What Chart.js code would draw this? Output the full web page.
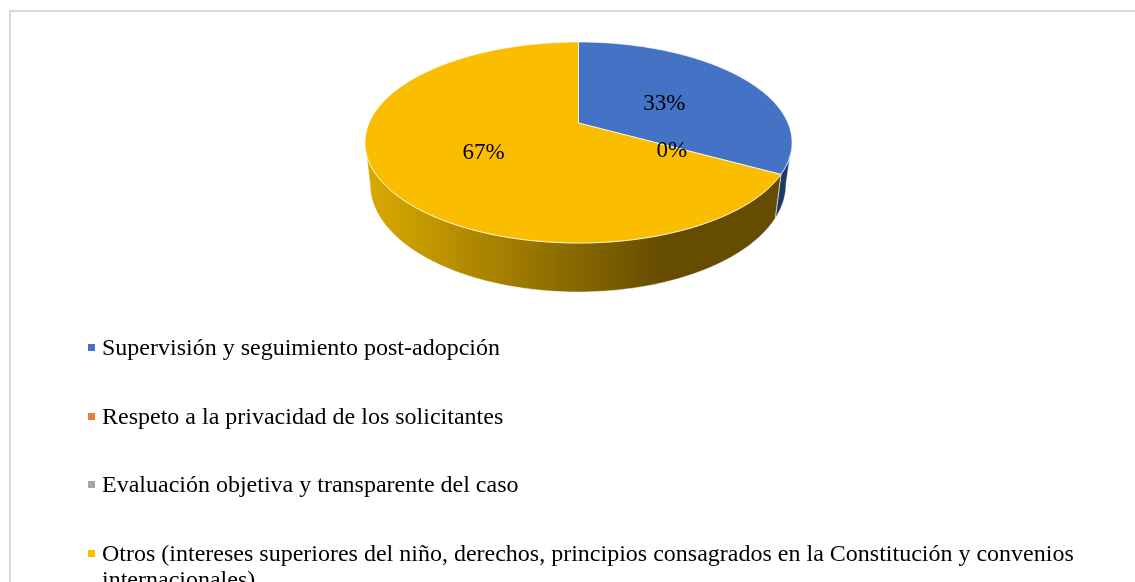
<!DOCTYPE html>
<html>
<head>
<meta charset="utf-8">
<script src="https://cdn.jsdelivr.net/npm/chart.js@4"></script>
<style>
html,body{margin:0;padding:0;background:#fff;overflow:hidden;width:1135px;height:582px}
canvas{display:block}
</style>
</head>
<body>
<canvas id="c" width="1135" height="582"></canvas>
<script>
const categories = [
  "Supervisión y seguimiento post-adopción",
  "Respeto a la privacidad de los solicitantes",
  "Evaluación objetiva y transparente del caso",
  "Otros (intereses superiores del niño, derechos, principios consagrados en la Constitución y convenios internacionales)"
];
const values = [33, 0, 0, 67];
const sliceColors = ["#4472C4", "#ED7D31", "#A5A5A5", "#FBBD00"];
const wallColors = ["#1F3864", "#843C0C", "#525252", null];

const LABEL_FONT = '23px "Liberation Serif"';
const LEGEND_FONT = '24px "Liberation Serif"';
const TOP = {cx:578.5, cy:142.5, a:213.5, b:100.5};
const BASE = {cx:578, cy:184, a:208, b:108};
const K = -0.194;

// Perspective projection of a point of the unit disc onto the tilted pie
function project(p, t, r){
  const u = r*Math.sin(t), v = -r*Math.cos(t), d = 1 + K*v;
  return {x: p.cx + p.a*u*Math.sqrt(1-K*K)/d, y: p.cy + p.b*(v+K)/d};
}
function arcPts(p, t0, t1){
  const n = Math.max(2, Math.ceil(Math.abs(t1-t0)/0.01)), pts = [];
  for(let i=0;i<=n;i++) pts.push(project(p, t0+(t1-t0)*i/n, 1));
  return pts;
}
function trace(ctx, pts, first){
  pts.forEach((q,i)=>{ if(i===0 && first) ctx.moveTo(q.x,q.y); else ctx.lineTo(q.x,q.y); });
}

const pie3d = {
  id:'pie3d',
  beforeDraw(chart){
    const ctx = chart.ctx;
    ctx.save();
    ctx.fillStyle = '#fff';
    ctx.fillRect(0,0,chart.width,chart.height);
    ctx.strokeStyle = '#D9D9D9';
    ctx.lineWidth = 2;
    ctx.beginPath();
    ctx.moveTo(10,chart.height+2); ctx.lineTo(10,11); ctx.lineTo(chart.width+2,11);
    ctx.stroke();
    ctx.restore();
  },
  beforeDatasetsDraw(chart){
    const ctx = chart.ctx, arcs = chart.getDatasetMeta(0).data;
    const ang = arcs.map(a=>[a.startAngle+Math.PI/2, a.endAngle+Math.PI/2]);
    ctx.save();
    // walls: only the front part of the rim shows, between the two side extremes
    const frontStart = Math.PI/2 + Math.asin(-K), frontEnd = 3*Math.PI/2 - Math.asin(-K);
    arcs.forEach((a,i)=>{
      const t0 = Math.max(ang[i][0], frontStart), t1 = Math.min(ang[i][1], frontEnd);
      if(values[i] <= 0 || t1 <= t0) return;
      ctx.beginPath();
      trace(ctx, arcPts(TOP,t0,t1), true);
      trace(ctx, arcPts(BASE,t1,t0), false);
      ctx.closePath();
      if(wallColors[i]){ ctx.fillStyle = wallColors[i]; }
      else{
        const g = ctx.createLinearGradient(365,0,665,0);
        g.addColorStop(0,'#DAAA00');
        g.addColorStop(1,'#654C00');
        ctx.fillStyle = g;
      }
      ctx.fill();
      ctx.strokeStyle = 'rgba(255,255,255,0.55)';
      ctx.lineWidth = 1;
      ctx.stroke();
    });
    // top faces
    arcs.forEach((a,i)=>{
      if(values[i] <= 0) return;
      const apex = project(TOP,0,0);
      ctx.beginPath();
      ctx.moveTo(apex.x,apex.y);
      trace(ctx, arcPts(TOP,ang[i][0],ang[i][1]), false);
      ctx.closePath();
      ctx.fillStyle = sliceColors[i];
      ctx.fill();
      ctx.strokeStyle = 'rgba(255,255,255,0.7)';
      ctx.lineWidth = 1;
      ctx.stroke();
    });
    // value labels; empty slices sit on one spot and share one label
    const total = values.reduce((s,v)=>s+v,0);
    ctx.fillStyle = '#000';
    ctx.font = LABEL_FONT;
    ctx.textAlign = 'center';
    ctx.textBaseline = 'middle';
    let zeroDone = false;
    arcs.forEach((a,i)=>{
      const zero = values[i] === 0;
      if(zero && zeroDone) return;
      if(zero) zeroDone = true;
      const q = project(TOP,(ang[i][0]+ang[i][1])/2,0.5);
      ctx.fillText(Math.round(values[i]/total*100)+'%', q.x-(zero?3:0), q.y+4);
    });
    ctx.restore();
    return false;
  },
  afterDraw(chart){
    const ctx = chart.ctx;
    ctx.save();
    ctx.font = LEGEND_FONT;
    ctx.textAlign = 'left';
    ctx.textBaseline = 'alphabetic';
    categories.forEach((label,i)=>{
      const base = 355 + 68.7*i;
      ctx.fillStyle = sliceColors[i];
      ctx.fillRect(88, Math.round(base-11), 7, 7);
      ctx.fillStyle = '#000';
      let line = '', y = base;
      label.split(' ').forEach(w=>{
        const test = line ? line+' '+w : w;
        if(ctx.measureText(test).width > 985){ ctx.fillText(line,102,y); y += 26; line = w; }
        else line = test;
      });
      ctx.fillText(line,102,y);
    });
    ctx.restore();
  }
};

new Chart(document.getElementById('c'),{
  type:'pie',
  data:{labels:categories, datasets:[{data:values, backgroundColor:sliceColors}]},
  options:{
    responsive:false,
    animation:false,
    events:[],
    plugins:{legend:{display:false},tooltip:{enabled:false}}
  },
  plugins:[pie3d]
});
</script>
</body>
</html>
